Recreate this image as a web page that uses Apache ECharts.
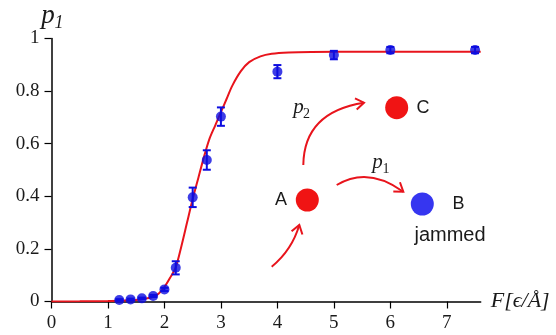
<!DOCTYPE html>
<html>
<head>
<meta charset="utf-8">
<script src="https://cdn.jsdelivr.net/npm/echarts@6/dist/echarts.min.js"></script>
<style>
  html, body { margin: 0; padding: 0; background: #fff; }
  #chart { width: 556px; height: 335px; }
</style>
</head>
<body>
<div id="chart"></div>
<script>
// measured points (force, probability, error)
const forceValues = [1.2, 1.4, 1.6, 1.8, 2.0, 2.2, 2.5, 2.75, 3.0, 4, 5, 6, 7.5]
const probValues = [0.006, 0.008, 0.012, 0.021, 0.046, 0.128, 0.396, 0.538, 0.703, 0.874, 0.937, 0.956, 0.956]
const probErrors = [0.003, 0.003, 0.003, 0.004, 0.006, 0.025, 0.037, 0.037, 0.035, 0.025, 0.016, 0.012, 0.012]

// fitted curve
const fitX = [0, 0.5, 1.0, 1.3, 1.5, 1.7, 1.8, 1.9, 2.0, 2.1, 2.2, 2.3, 2.4, 2.5, 2.6, 2.7, 2.8, 2.9, 3.0, 3.1, 3.2, 3.35, 3.5, 3.7, 3.9, 4.2, 4.6, 5.5, 6.5, 7.6]
const fitY = [0, 0.0005, 0.002, 0.004, 0.006, 0.012, 0.018, 0.03, 0.055, 0.09, 0.13, 0.21, 0.3, 0.39, 0.47, 0.55, 0.62, 0.67, 0.72, 0.77, 0.82, 0.875, 0.91, 0.932, 0.942, 0.947, 0.949, 0.95, 0.95, 0.95]

// tick labels
const xTicks = [0, 1, 2, 3, 4, 5, 6, 7]

const red = '#e8141c'
const blue = '#0d0de0'
const serif = '"Liberation Serif", "Times New Roman", serif'

const chart = echarts.init(document.getElementById('chart'))

function renderErrorBar(params, api) {
  const x = api.value(0)
  const lo = api.coord([x, api.value(1)])
  const hi = api.coord([x, api.value(2)])
  const half = 4
  const style = { stroke: blue, lineWidth: 2 }
  return {
    type: 'group',
    children: [
      { type: 'line', shape: { x1: lo[0], y1: lo[1], x2: hi[0], y2: hi[1] }, style },
      { type: 'line', shape: { x1: lo[0] - half, y1: lo[1], x2: lo[0] + half, y2: lo[1] }, style },
      { type: 'line', shape: { x1: hi[0] - half, y1: hi[1], x2: hi[0] + half, y2: hi[1] }, style },
    ],
  }
}

// curved arrow with a V head at the end
function arrow(x1, y1, cx, cy, x2, y2) {
  const a = Math.atan2(y2 - cy, x2 - cx)
  const len = 10
  const spread = 0.6
  const style = { stroke: red, lineWidth: 2, fill: null }
  return [
    { type: 'bezierCurve', shape: { x1, y1, cpx1: cx, cpy1: cy, x2, y2 }, style },
    {
      type: 'polyline',
      shape: {
        points: [
          [x2 - len * Math.cos(a - spread), y2 - len * Math.sin(a - spread)],
          [x2, y2],
          [x2 - len * Math.cos(a + spread), y2 - len * Math.sin(a + spread)],
        ],
      },
      style,
    },
  ]
}

function label(x, y, text, font, align) {
  return {
    type: 'text',
    x,
    y,
    style: { text, font, fill: '#1a1a1a', align: align || 'center', verticalAlign: 'middle' },
  }
}

const sans = '18px "Liberation Sans"'
const pFont = 'italic 21px "Liberation Serif"'
const subFont = '14px "Liberation Serif"'

const option = {
  animation: false,
  grid: { left: 51.5, right: 75.3, top: 38.5, bottom: 33.5 },
  xAxis: {
    type: 'value',
    min: 0,
    max: 7.6,
    interval: 1,
    name: 'F[ϵ/Å]',
    nameLocation: 'end',
    nameGap: 10,
    nameTextStyle: { fontFamily: serif, fontStyle: 'italic', fontSize: 22, color: '#1a1a1a', verticalAlign: 'middle', padding: [5, 0, 0, 0] },
    axisLine: { onZero: false, lineStyle: { color: '#000', width: 1.5 } },
    axisTick: { length: 7, customValues: xTicks, lineStyle: { color: '#000', width: 1.2 } },
    axisLabel: { customValues: xTicks, margin: 12, fontFamily: serif, fontSize: 19, color: '#1a1a1a' },
    splitLine: { show: false },
  },
  yAxis: {
    type: 'value',
    min: 0,
    max: 1,
    interval: 0.2,
    axisLine: { show: true, lineStyle: { color: '#000', width: 1.5 } },
    axisTick: { show: true, length: 7, lineStyle: { color: '#000', width: 1.2 } },
    axisLabel: { margin: 12, fontFamily: serif, fontSize: 19, color: '#1a1a1a' },
    splitLine: { show: false },
  },
  series: [
    {
      type: 'line',
      data: fitX.map((x, i) => [x, fitY[i]]),
      smooth: 0.3,
      showSymbol: false,
      lineStyle: { color: red, width: 2 },
      z: 2,
    },
    {
      type: 'custom',
      renderItem: renderErrorBar,
      data: forceValues.map((x, i) => [x, probValues[i] - probErrors[i], probValues[i] + probErrors[i]]),
      z: 3,
    },
    {
      type: 'scatter',
      data: forceValues.map((x, i) => [x, probValues[i]]),
      symbolSize: 10,
      itemStyle: { color: blue },
      z: 4,
    },
  ],
  graphic: [
    // y axis title p1
    label(48, 16, 'p', 'italic 27px "Liberation Serif"'),
    label(59, 23, '1', 'italic 18px "Liberation Serif"'),
    ...arrow(271.7, 266.7, 292, 250, 299.3, 225),
    ...arrow(303.3, 165, 304, 112, 364, 102.7),
    ...arrow(336.7, 185, 368, 166, 403.3, 191.7),
    { type: 'circle', shape: { cx: 307.3, cy: 200, r: 11.5 }, style: { fill: '#f01414' } },
    { type: 'circle', shape: { cx: 396.7, cy: 107.7, r: 11.5 }, style: { fill: '#f01414' } },
    { type: 'circle', shape: { cx: 422.3, cy: 204, r: 11.5 }, style: { fill: '#3636f0' } },
    label(281, 200, 'A', sans),
    label(423, 108.5, 'C', sans),
    label(458.5, 204.5, 'B', sans),
    label(450, 235, 'jammed', '20px "Liberation Sans"'),
    label(298.5, 107, 'p', pFont),
    label(306.5, 114, '2', subFont),
    label(377.5, 162.5, 'p', pFont),
    label(386, 169, '1', subFont),
  ],
}

chart.setOption(option)
</script>
</body>
</html>
